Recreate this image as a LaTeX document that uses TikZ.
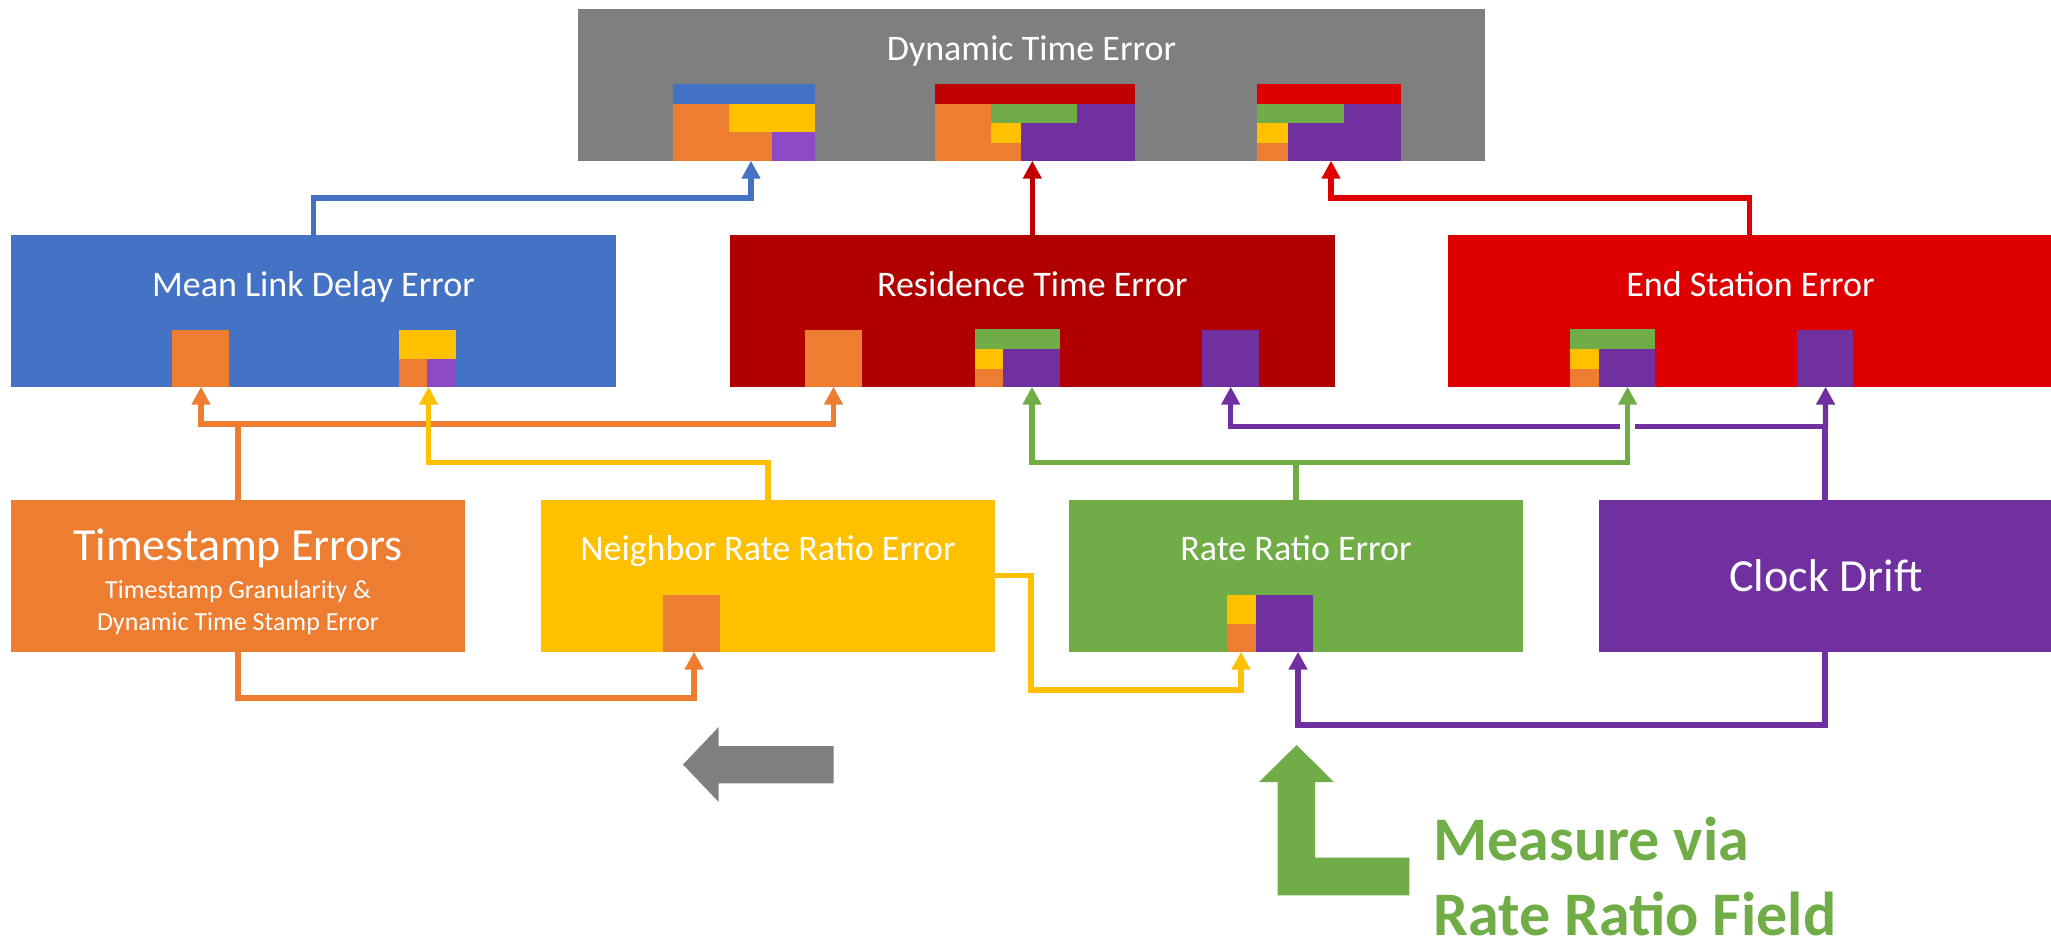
\documentclass[tikz,border=0pt]{standalone}
\usepackage{fontspec}
\setmainfont{Carlito}
\usetikzlibrary{arrows.meta,fit,calc}
\definecolor{cGray}{HTML}{7F7F7F}
\definecolor{cBlue}{HTML}{4472C4}
\definecolor{cRte}{HTML}{B00000}
\definecolor{cDkRed}{HTML}{C00000}
\definecolor{cRed}{HTML}{DE0000}
\definecolor{cOrange}{HTML}{ED7D31}
\definecolor{cYellow}{HTML}{FFC000}
\definecolor{cGreen}{HTML}{70AD47}
\definecolor{cPurple}{HTML}{7030A0}
\definecolor{cLilac}{HTML}{8E49C6}
% a filled panel spanning two corner points
\newcommand\mkpanel[4]{\node[panel, fill=#2, fit={#3 #4}] (#1) {};}
\begin{document}
\begin{tikzpicture}[x=0.5pt,y=-0.5pt,
  panel/.style={inner sep=0pt, outer sep=0pt, draw=none},
  ttl/.style={text=white, anchor=base, inner sep=0pt, font=\fontsize{18pt}{21pt}\selectfont},
  big/.style={text=white, anchor=base, inner sep=0pt, font=\fontsize{23pt}{27pt}\selectfont},
  small/.style={text=white, anchor=base, inner sep=0pt, font=\fontsize{13pt}{15pt}\selectfont},
  note/.style={text=cGreen, anchor=base west, inner sep=0pt, font=\fontsize{31pt}{36pt}\selectfont\bfseries},
  conn/.style={line width=2.6pt, -{Triangle[width=9pt,length=9pt]}},
  link/.style={line width=2.6pt}
]
\useasboundingbox (0,0) rectangle (2051,943);
\fill[white] (0,0) rectangle (2051,943);

% ---------- top: total error ----------
\mkpanel{dte}{cGray}{(578,9)}{(1485,160.7)}
\node[ttl] (dteT) at (1031.5,60) {Dynamic Time Error};
% composition of mean link delay error
\fill[cBlue]   (673,84) rectangle (815,104);
\fill[cOrange] (673,104) rectangle (772,160.7);
\fill[cYellow] (729,104) rectangle (815,131.7);
\fill[cLilac]  (772,131.7) rectangle (815,160.7);
% composition of residence time error
\fill[cDkRed]  (935,84) rectangle (1135,104);
\fill[cOrange] (935,104) rectangle (991,160.7);
\fill[cGreen]  (991,104) rectangle (1077,122.7);
\fill[cPurple] (1077,104) rectangle (1135,160.7);
\fill[cYellow] (991,122.7) rectangle (1021,142.7);
\fill[cOrange] (991,142.7) rectangle (1021,160.7);
\fill[cPurple] (1021,122.7) rectangle (1135,160.7);
% composition of end station error
\fill[cRed]    (1257,84) rectangle (1401,104);
\fill[cGreen]  (1257,104) rectangle (1344,122.7);
\fill[cPurple] (1344,104) rectangle (1401,160.7);
\fill[cYellow] (1257,122.7) rectangle (1288,142.7);
\fill[cOrange] (1257,142.7) rectangle (1288,160.7);
\fill[cPurple] (1288,122.7) rectangle (1401,160.7);

% ---------- middle row ----------
\mkpanel{mld}{cBlue}{(11,235)}{(616,386.7)}
\node[ttl] (mldT) at (313.5,296.5) {Mean Link Delay Error};
\fill[cOrange] (172,330) rectangle (229,386.7);
\fill[cYellow] (398.6,330) rectangle (455.8,358.7);
\fill[cOrange] (398.6,358.7) rectangle (426.8,386.7);
\fill[cLilac]  (426.8,358.7) rectangle (455.8,386.7);

\mkpanel{rte}{cRte}{(730,235)}{(1334.6,386.7)}
\node[ttl] (rteT) at (1032.3,296.5) {Residence Time Error};
\fill[cOrange] (805,330) rectangle (862,386.7);
\fill[cGreen]  (975,329) rectangle (1060,348.7);
\fill[cYellow] (975,348.7) rectangle (1003,368.7);
\fill[cOrange] (975,368.7) rectangle (1003,386.7);
\fill[cPurple] (1003,348.7) rectangle (1060,386.7);
\fill[cPurple] (1202,330) rectangle (1259,386.7);

\mkpanel{ese}{cRed}{(1448,235)}{(2051,386.7)}
\node[ttl] (eseT) at (1750.5,296.5) {End Station Error};
\fill[cGreen]  (1570,329) rectangle (1655,348.7);
\fill[cYellow] (1570,348.7) rectangle (1599,368.7);
\fill[cOrange] (1570,368.7) rectangle (1599,386.7);
\fill[cPurple] (1599,348.7) rectangle (1655,386.7);
\fill[cPurple] (1797,330) rectangle (1853,386.7);

% ---------- bottom row ----------
\mkpanel{tse}{cOrange}{(10.8,500)}{(465,651.7)}
\node[big] (tseT) at (238,560) {Timestamp Errors};
\node[small] (tseS1) at (238,598.3) {Timestamp Granularity \&};
\node[small] (tseS2) at (238,630) {Dynamic Time Stamp Error};

\mkpanel{nrr}{cYellow}{(541,500)}{(995,651.7)}
\node[ttl] (nrrT) at (768,560) {Neighbor Rate Ratio Error};
\fill[cOrange] (663,595) rectangle (720,651.7);

\mkpanel{rre}{cGreen}{(1069,500)}{(1523,651.7)}
\node[ttl] (rreT) at (1296,560) {Rate Ratio Error};
\fill[cYellow] (1227,595) rectangle (1256,624);
\fill[cOrange] (1227,624) rectangle (1256,651.7);
\fill[cPurple] (1256,595) rectangle (1313,651.7);

\mkpanel{clk}{cPurple}{(1599,500)}{(2051,651.7)}
\node[big] (clkT) at (1826,591.7) {Clock Drift};

% ---------- arrow targets ----------
\coordinate (tB)  at (751,160.7);
\coordinate (tR)  at (1331,160.7);
\coordinate (tO1) at (201,386.7);
\coordinate (tO2) at (833.5,386.7);
\coordinate (tY1) at (428.6,386.7);
\coordinate (tG1) at (1032,386.7);
\coordinate (tG2) at (1627.6,386.7);
\coordinate (tP1) at (1230.7,386.7);
\coordinate (tP2) at (1825.6,386.7);
\coordinate (tO3) at (694,651.7);
\coordinate (tY2) at (1241,651.7);
\coordinate (tP3) at (1298,651.7);

% ---------- connectors ----------
\draw[conn, cBlue] (mld.north) -- ++(0,-37) -| (tB);
\draw[conn, cDkRed] (rte.north) -- (rte.north |- dte.south);
\draw[conn, cRed] (ese.north) -- ++(0,-37) -| (tR);

\draw[conn, cOrange] (tse.north) -- ++(0,-76) -| (tO1);
\draw[conn, cOrange] (tse.north) -- ++(0,-76) -| (tO2);
\draw[conn, cYellow] (nrr.north) -- ++(0,-37.3) -| (tY1);

\draw[conn, cPurple] (clk.north) -- ++(0,-73.3) -| (tP1);
\draw[conn, cPurple] (clk.north) -- (tP2);

% green branch to the end station crosses the purple line with a gap
\draw[conn, cGreen, preaction={draw=white, line width=7.25pt, arrows=-}]
  ($(rre.north)+(0,-37.3)$) -| (tG2);
\draw[conn, cGreen] (rre.north) -- ++(0,-37.3) -| (tG1);

\draw[conn, cOrange] (tse.south) -- ++(0,46.3) -| (tO3);
\draw[conn, cYellow] (nrr.east) -- ++(36,0) -- ++(0,114.15) -| (tY2);
\draw[conn, cPurple] (clk.south) -- ++(0,73.3) -| (tP3);

% ---------- direction marks ----------
\fill[cGray] (683,764.5) -- (718.7,727) -- (718.7,746) -- (833.5,746)
  -- (833.5,783.3) -- (718.7,783.3) -- (718.7,802) -- cycle;
\fill[cGreen] (1296.6,745) -- (1334,782) -- (1315,782) -- (1315,857.7)
  -- (1409.4,857.7) -- (1409.4,895.3) -- (1277.6,895.3) -- (1277.6,782)
  -- (1259,782) -- cycle;
\node[note] (m1) at (1433,860) {Measure via};
\node[note] (m2) at (1433,935) {Rate Ratio Field};
\end{tikzpicture}
\end{document}
